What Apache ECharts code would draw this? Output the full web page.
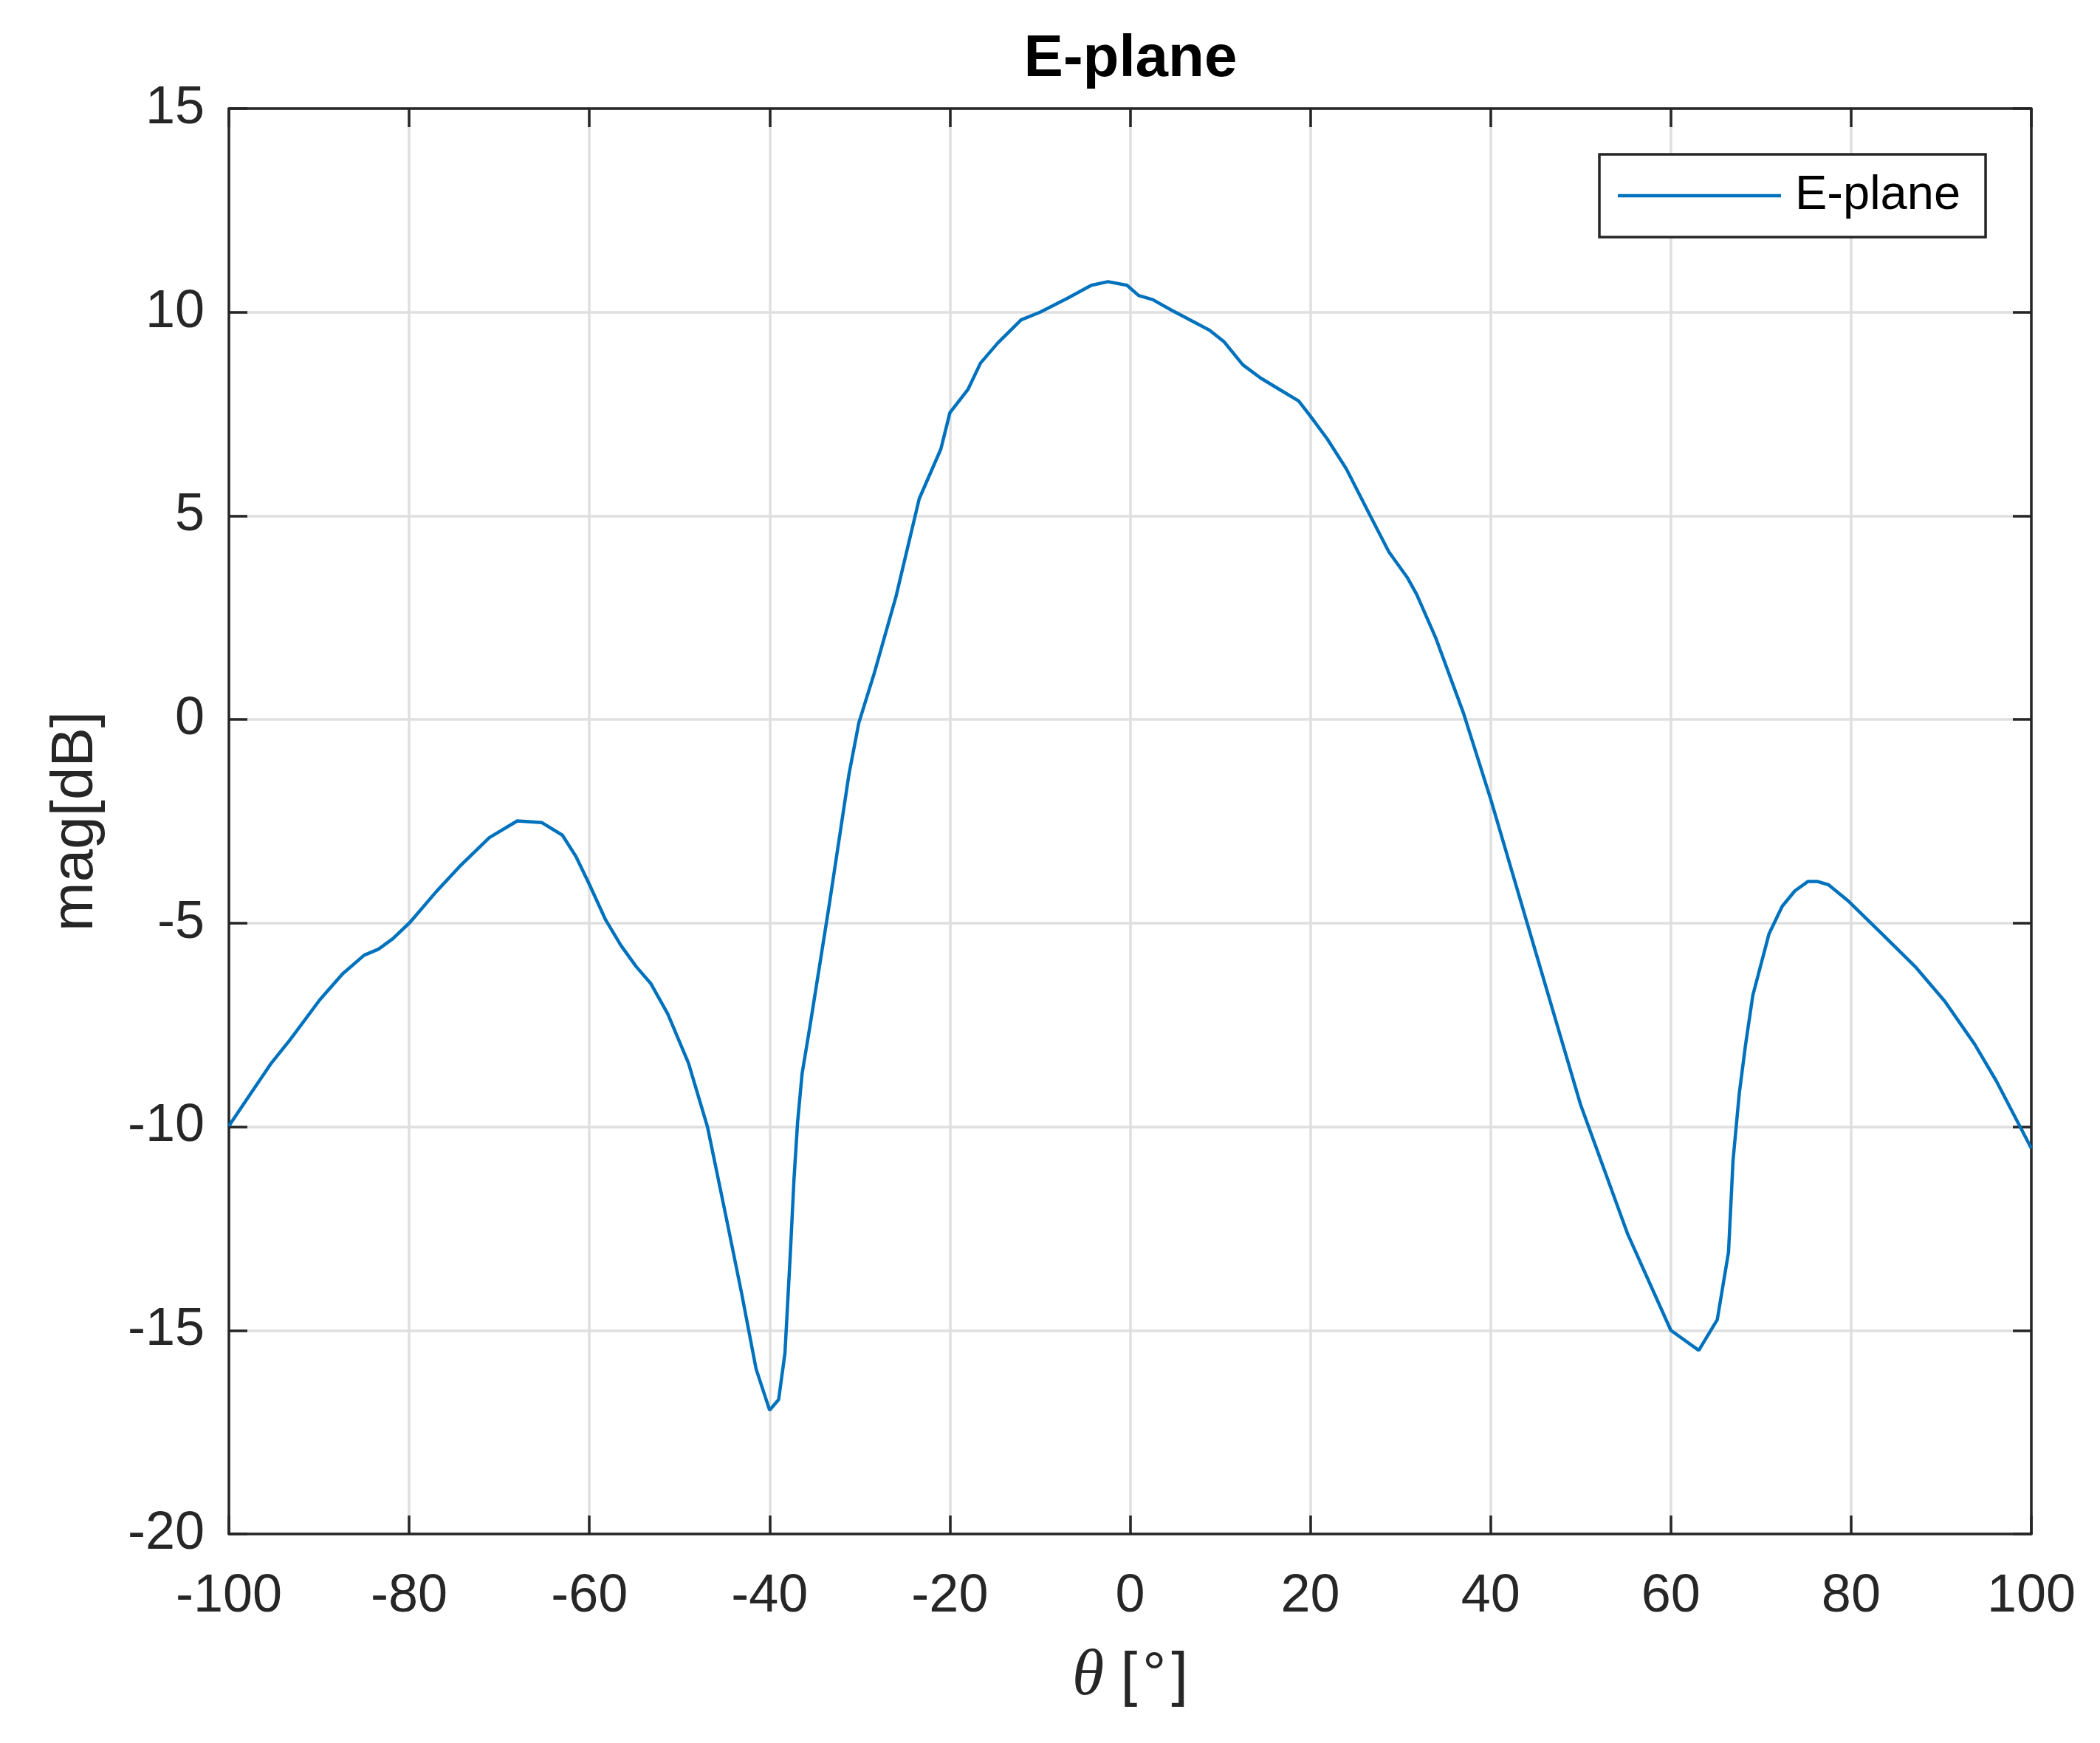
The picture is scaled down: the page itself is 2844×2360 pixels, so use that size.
<!DOCTYPE html>
<html>
<head>
<meta charset="utf-8">
<script src="https://cdn.jsdelivr.net/npm/echarts@6/dist/echarts.min.js"></script>
<style>
html,body{margin:0;padding:0;background:#fff;}
#c{width:2844px;height:2360px;}
</style>
</head>
<body>
<div id="c"></div>
<script>
// ---- data ----
const thetaDeg = [
  -100, -97.6, -95.3, -93.2, -89.9, -87.4, -85.0, -83.4, -81.8, -79.9,
  -77.0, -74.4, -71.1, -68.0, -65.3, -63.0, -61.5, -60.0, -58.2, -56.5,
  -54.8, -53.2, -51.3, -49.0, -46.9, -44.8, -43.1, -41.5, -40.0, -39.0,
  -38.3, -37.7, -37.3, -36.9, -36.4, -35.5, -33.35, -31.2, -30.1, -28.4,
  -26.0, -23.4, -21.0, -20.0, -18.0, -16.6, -14.7, -12.1, -10.0, -6.9,
  -4.3, -2.45, -0.35, 0.95, 2.5, 4.6, 8.8, 10.4, 12.5, 14.5,
  16.6, 18.7, 20.0, 21.9, 24.0, 26.6, 28.7, 30.8, 31.8, 33.9,
  37.0, 40.0, 44.4, 50.0, 55.2, 60.0, 63.1, 65.15, 66.4, 66.9,
  67.6, 68.3, 69.1, 70.9, 72.35, 73.76, 75.2, 76.3, 77.5, 79.6,
  83.4, 87.2, 90.4, 93.7, 96.1, 98.4, 100
];
const magDb = [
  -9.98, -9.19, -8.44, -7.86, -6.88, -6.25, -5.79, -5.64, -5.38, -4.98,
  -4.23, -3.61, -2.90, -2.49, -2.53, -2.84, -3.36, -4.05, -4.92, -5.55,
  -6.07, -6.48, -7.23, -8.44, -10.0, -12.25, -14.1, -15.95, -16.96, -16.7,
  -15.56, -13.1, -11.3, -9.9, -8.7, -7.5, -4.5, -1.35, -0.08, 1.13,
  3.0, 5.42, 6.64, 7.53, 8.1, 8.75, 9.24, 9.81, 10.0, 10.35,
  10.66, 10.75, 10.66, 10.41, 10.31, 10.05, 9.56, 9.28, 8.71, 8.38,
  8.1, 7.82, 7.45, 6.88, 6.15, 5.02, 4.12, 3.47, 3.07, 2.01,
  0.15, -1.95, -5.26, -9.47, -12.63, -15.0, -15.49, -14.74, -13.08, -10.83,
  -9.17, -7.97, -6.77, -5.26, -4.59, -4.21, -3.98, -3.98, -4.06, -4.44,
  -5.26, -6.09, -6.92, -7.97, -8.87, -9.85, -10.53
];
const xTicks = [-100, -80, -60, -40, -20, 0, 20, 40, 60, 80, 100];
const yTicks = [-20, -15, -10, -5, 0, 5, 10, 15];
const seriesName = 'E-plane';
const titleText = 'E-plane';
const yLabel = 'mag[dB]';

// ---- build chart ----
const AX = '#262626';
const FONT = 'Liberation Sans';
const points = thetaDeg.map((t, i) => [t, magDb[i]]);
const xMin = xTicks[0], xMax = xTicks[xTicks.length - 1], xInt = xTicks[1] - xTicks[0];
const yMin = yTicks[0], yMax = yTicks[yTicks.length - 1], yInt = yTicks[1] - yTicks[0];

const baseX = {
  type: 'value', min: xMin, max: xMax, interval: xInt,
  axisLine: { show: true, onZero: false, lineStyle: { color: AX, width: 3.5 } },
  axisTick: { show: true, inside: true, length: 25, lineStyle: { color: AX, width: 3.5 } }
};
const baseY = {
  type: 'value', min: yMin, max: yMax, interval: yInt,
  axisLine: { show: true, onZero: false, lineStyle: { color: AX, width: 3.5 } },
  axisTick: { show: true, inside: true, length: 25, lineStyle: { color: AX, width: 3.5 } }
};

const chart = echarts.init(document.getElementById('c'), null, { renderer: 'canvas' });
chart.setOption({
  backgroundColor: '#ffffff',
  animation: false,
  title: {
    text: titleText,
    left: 1531, top: 41, textAlign: 'center', padding: 0,
    textStyle: { fontFamily: FONT, fontWeight: 'bold', fontSize: 80, lineHeight: 80, color: '#000' }
  },
  legend: {
    show: true,
    data: [seriesName],
    left: 2166, top: 209,
    orient: 'vertical',
    padding: [23, 34, 23, 25],
    backgroundColor: '#fff',
    borderColor: AX, borderWidth: 3.5, borderRadius: 0,
    icon: 'rect', itemWidth: 221, itemHeight: 4.5,
    textStyle: { fontFamily: FONT, fontSize: 65, lineHeight: 66, color: '#000', padding: [0, 0, 0, 14] }
  },
  grid: { left: 310, right: 93, top: 147, bottom: 283, containLabel: false },
  xAxis: [
    Object.assign({}, baseX, {
      position: 'bottom',
      name: '{t|θ}{s| }{n|[}{d|°}{n|]}', nameLocation: 'middle', nameGap: 150,
      nameTextStyle: {
        rich: {
          t: { fontFamily: 'Liberation Serif', fontStyle: 'italic', fontSize: 88, color: AX },
          s: { fontFamily: FONT, fontSize: 80, color: AX },
          n: { fontFamily: FONT, fontSize: 82, color: AX },
          d: { fontFamily: FONT, fontSize: 80, color: AX, padding: [0, 7, 0, 7] }
        }
      },
      axisLabel: { show: true, margin: 49, fontFamily: FONT, fontSize: 72, lineHeight: 72, color: AX },
      splitLine: { show: true, lineStyle: { color: '#dfdfdf', width: 3.5 } }
    }),
    Object.assign({}, baseX, {
      position: 'top',
      axisLabel: { show: false },
      splitLine: { show: false }
    })
  ],
  yAxis: [
    Object.assign({}, baseY, {
      position: 'left',
      name: yLabel, nameLocation: 'middle', nameGap: 167, nameRotate: 90,
      nameTextStyle: { fontFamily: FONT, fontSize: 80, lineHeight: 80, color: AX },
      axisLabel: { show: true, margin: 33, fontFamily: FONT, fontSize: 72, color: AX },
      splitLine: { show: true, lineStyle: { color: '#dfdfdf', width: 3.5 } }
    }),
    Object.assign({}, baseY, {
      position: 'right',
      axisLabel: { show: false },
      splitLine: { show: false }
    })
  ],
  series: [{
    name: seriesName,
    type: 'line',
    xAxisIndex: 0, yAxisIndex: 0,
    data: points,
    showSymbol: false,
    symbol: 'none',
    smooth: false,
    clip: true,
    lineStyle: { color: '#0072BD', width: 4.5 },
    itemStyle: { color: '#0072BD' },
    z: 3
  }]
});
</script>
</body>
</html>
